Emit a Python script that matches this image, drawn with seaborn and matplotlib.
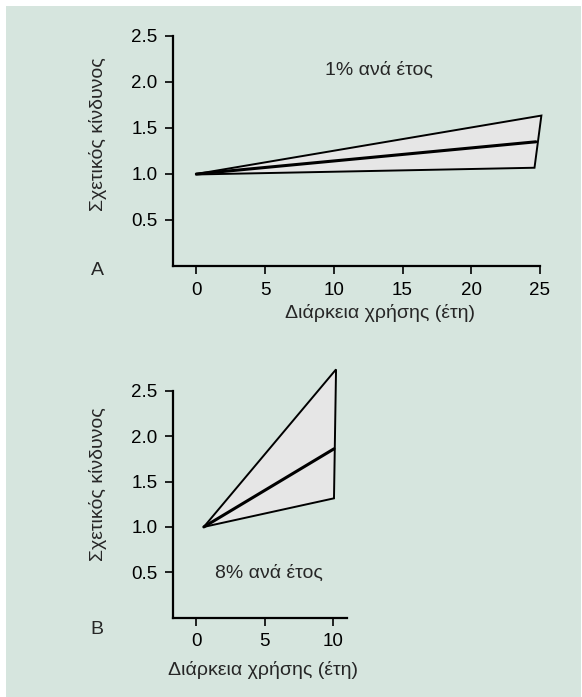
import matplotlib
matplotlib.use("Agg")
import matplotlib.pyplot as plt
import seaborn as sns
import pandas as pd
from matplotlib.patches import Rectangle

sns.set_theme(style="ticks")
plt.rcParams['font.family'] = ['Liberation Sans', 'DejaVu Sans']

# ---- data ----
a_upper_x = [0.0, 25.1]
a_upper_y = [1.0, 1.635]
a_mid_x = [0.0, 24.7]
a_mid_y = [1.0, 1.35]
a_lower_x = [0.0, 24.6]
a_lower_y = [0.995, 1.068]

b_upper_x = [0.55, 10.2]
b_upper_y = [1.0, 2.735]
b_mid_x = [0.55, 10.05]
b_mid_y = [1.0, 1.86]
b_lower_x = [0.55, 10.05]
b_lower_y = [1.0, 1.315]

y_ticks = [0.5, 1.0, 1.5, 2.0, 2.5]
a_x_ticks = [0, 5, 10, 15, 20, 25]
b_x_ticks = [0, 5, 10]

ylabel = "Σχετικός κίνδυνος"
xlabel = "Διάρκεια χρήσης (έτη)"
a_note = "1% ανά έτος"
b_note = "8% ανά έτος"

BG = "#d6e5de"
W, H = 582, 697
fig = plt.figure(figsize=(W / 100, H / 100), dpi=100, facecolor="white")
fig.patches.append(Rectangle((6 / W, 0), (W - 7) / W, (H - 6) / H,
                             transform=fig.transFigure, facecolor=BG,
                             edgecolor="none", zorder=-10))

axA = fig.add_axes([173 / W, (H - 266) / H, (540 - 173) / W, 230 / H])
axB = fig.add_axes([173 / W, (H - 617.7) / H, (347 - 173) / W, 254.2 / H])

FS = 14
TFS = 13.5


def draw(ax, ux, uy, mx, my, lx, ly):
    poly_x = ux + lx[::-1]
    poly_y = uy + ly[::-1]
    ax.fill(poly_x, poly_y, facecolor="#e6e6e6", edgecolor="black",
            linewidth=1.4, joinstyle="miter", zorder=2, clip_on=False)
    df = pd.DataFrame({"x": mx, "y": my})
    sns.lineplot(data=df, x="x", y="y", ax=ax, color="black", linewidth=2.2,
                 sort=False, estimator=None, zorder=3)
    ax.set_facecolor("none")
    for s in ["top", "right"]:
        ax.spines[s].set_visible(False)
    for s in ["left", "bottom"]:
        ax.spines[s].set_linewidth(1.6)
        ax.spines[s].set_color("black")
    ax.tick_params(direction="out", length=5.8, width=1.2, colors="black",
                   labelsize=TFS, pad=5.5)
    ax.set_yticks(y_ticks)
    ax.set_yticklabels([f"{v:.1f}" for v in y_ticks])


draw(axA, a_upper_x, a_upper_y, a_mid_x, a_mid_y, a_lower_x, a_lower_y)
axA.set_xlim(-1.7, 25)
axA.set_ylim(0, 2.5)
axA.set_xticks(a_x_ticks)
axA.spines["left"].set_bounds(0, 2.5)

draw(axB, b_upper_x, b_upper_y, b_mid_x, b_mid_y, b_lower_x, b_lower_y)
axB.set_xlim(-1.7, 11)
axB.set_ylim(0, 2.8)
axB.set_xticks(b_x_ticks)
axB.spines["left"].set_bounds(0, 2.5)

for ax, yx, yy, xx, xy in [(axA, -0.204, 0.574, 0.564, -0.204),
                           (axB, -0.431, 0.526, 0.517, -0.206)]:
    ax.set_ylabel(ylabel, fontsize=FS, va="center", ha="center")
    ax.yaxis.set_label_coords(yx, yy)
    ax.set_xlabel(xlabel, fontsize=FS, va="center", ha="center")
    ax.xaxis.set_label_coords(xx, xy)

axA.text(13.27, 2.076, a_note, fontsize=FS, ha="center", va="baseline")
axB.text(5.3, 0.437, b_note, fontsize=FS, ha="center", va="baseline")

fig.text(97 / W, 1 - 270 / H, "A", fontsize=FS, ha="center", va="center")
fig.text(97 / W, 1 - 630 / H, "B", fontsize=FS, ha="center", va="center")

fig.savefig("out.png", dpi=100, facecolor="white")
